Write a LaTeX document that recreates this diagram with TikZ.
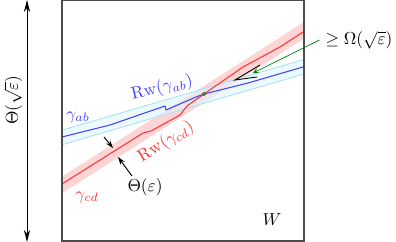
\documentclass[tikz,border=0pt]{standalone}
\usepackage{amsmath}
\usepackage{amsfonts}
\usetikzlibrary{positioning,arrows.meta}

\tikzset{
  curve/.style={line width=0.6pt, line join=round},
  pointer/.style={-{Stealth[length=4.5pt, width=3pt]}, line width=0.55pt},
}

\begin{document}
\begin{tikzpicture}[>=stealth, x=0.578pt, y=-0.578pt]
\useasboundingbox (0,0) rectangle (396,242);
\coordinate (wnw) at (62,0);
\coordinate (wse) at (304,241);

% bands and curves inside W
\begin{scope}
  \clip (wnw) rectangle (wse);
  \fill[red!17] (40,190.7) -- (330,5.4) -- (330,22) -- (40,207.3) -- cycle;
  \filldraw[fill=cyan!12, fill opacity=0.6, draw=cyan!35, line width=0.5pt]
    (40,136.6) -- (330,51.8) -- (330,66.4) -- (40,151.2) -- cycle;
  \draw[curve, blue!75] (62,137) -- (110,125) -- (165,106) -- (166,110)
    -- (196,97) -- (204,94) -- (248,83) -- (303,67);
  \draw[curve, red!80] (62,184) -- (143,133) -- (151,131) -- (180,115)
    -- (187,106) -- (204,94) -- (243,67) -- (280,47) -- (303,32);
\end{scope}
\node[circle, draw=green!50!black, line width=0.4pt, inner sep=0pt, minimum size=2pt] (cross) at (204,94) {};
\draw[gray!60!black, line width=0.6pt] (wnw) rectangle (wse);

% height of W
\coordinate (htop) at (27,0);
\coordinate (hbot) at (27,242);
\draw[{Stealth[length=7pt, width=3.6pt]}-{Stealth[length=7pt, width=3.6pt]}, line width=0.55pt] (htop) -- (hbot);
\node[rotate=90, inner sep=0.5pt] (height) at (13,100) {$\Theta(\sqrt{\varepsilon})$};

\node[blue!75] (gab) at (78,117) {$\gamma_{ab}$};
\node[blue!75, rotate=13] (rwab) at (162,88) {$\mathrm{Rw}(\gamma_{ab})$};
\node[red!80, rotate=32] (rwcd) at (166,142) {$\mathrm{Rw}(\gamma_{cd})$};
\node[red!80] (gcd) at (87,197) {$\gamma_{cd}$};
\node (W) at (272,220) {$W$};

% width of the band
\node (eps) at (145,187) {$\Theta(\varepsilon)$};
\coordinate (epsa) at (104,137);
\coordinate (epsaend) at (113,148);
\coordinate (epsb) at (132,176);
\coordinate (epsbend) at (118,157);
\draw[pointer] (epsa) -- (epsaend);
\draw[pointer] (epsb) -- (epsbend);

% gap between the curves
\node (omega) at (359,40) {$\geq \Omega(\sqrt{\varepsilon})$};
\coordinate (gtip) at (253,73);
\draw[->, green!50!black, line width=0.4pt] (omega.west) -- (gtip);
\coordinate (vtip) at (235,80);
\coordinate (varma) at (260,65);
\coordinate (varmb) at (257,77);
\draw[line width=0.5pt] (varma) -- (vtip) -- (varmb);
\end{tikzpicture}
\end{document}
